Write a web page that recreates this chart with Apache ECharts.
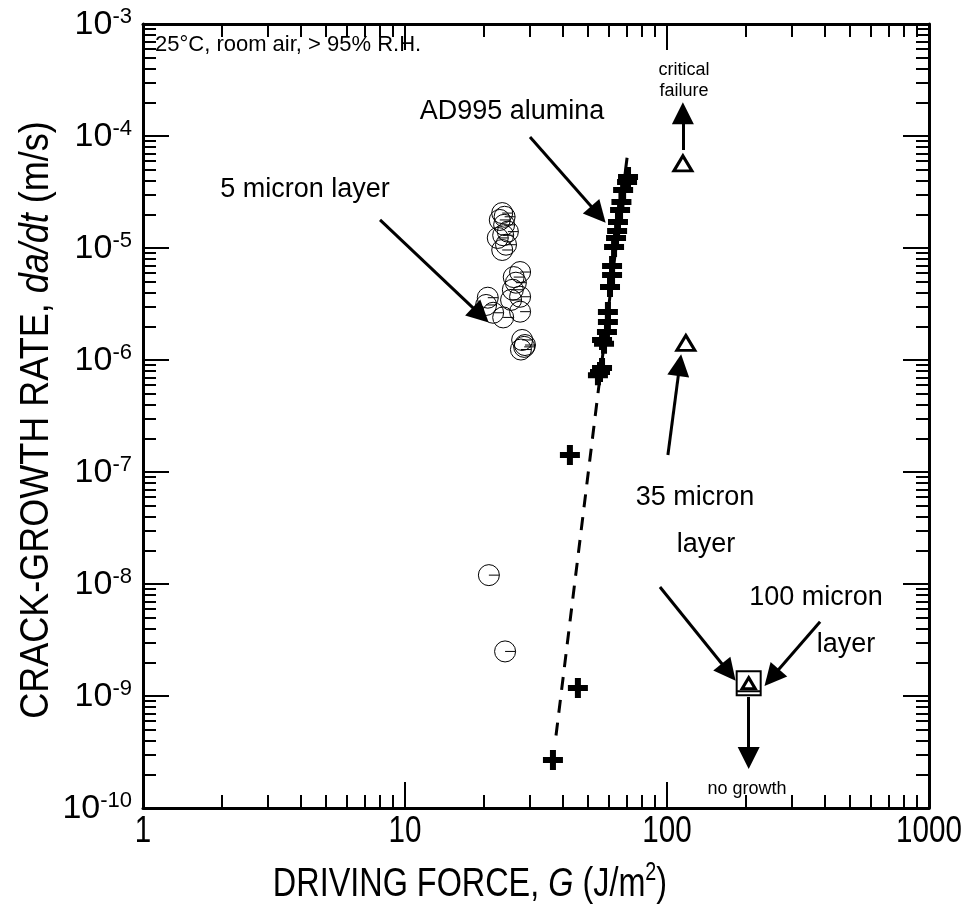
<!DOCTYPE html>
<html><head><meta charset="utf-8">
<script src="https://cdn.jsdelivr.net/npm/echarts@6/dist/echarts.min.js"></script>
<style>html,body{margin:0;padding:0;background:#fff}#c{width:973px;height:918px}</style>
</head><body><div id="c"></div>
<script>
// ---- data ----
const xMajor = [1, 10, 100, 1000];
const xTickLabels = ['1', '10', '100', '1000'];
const xMinor = [2,3,4,5,6,7,8,9,20,30,40,50,60,70,80,90,200,300,400,500,600,700,800,900];
const yMajor = [1e-10,1e-9,1e-8,1e-7,1e-6,1e-5,1e-4,1e-3];
const yMinor = [];
for (let e = -10; e < -3; e++) for (let m = 2; m <= 9; m++) yMinor.push(m * Math.pow(10, e));

// 5 micron layer (circles)
const circleG = [23.5,23.0,23.9,24.7,22.6,24.3,23.5,24.0,23.7,
                 27.5,26.5,25.8,27.5,25.4,20.7,21.7,23.7,27.5,20.4,26.0,
                 28.0,28.7,27.7,28.5,
                 20.9,24.1];
const circleRate = [2.05e-5,1.78e-5,1.61e-5,1.40e-5,1.23e-5,1.07e-5,9.6e-6,1.9e-5,1.3e-5,
                    6.1e-6,4.9e-6,4.24e-6,3.67e-6,3.44e-6,3.6e-6,2.64e-6,2.4e-6,2.7e-6,3.1e-6,5.5e-6,
                    1.51e-6,1.36e-6,1.24e-6,1.31e-6,
                    1.2e-8,2.5e-9];
// AD995 alumina (pluses)
const plusG = [55.5,56.5,54.5,56.5,57.5,59.0,59.5,59.5,60.6,61.7,61.7,62.8,63.9,64.5,65.0,66.2,67.0,68.0,70.4,71.0,
               42.6,45.7,36.7];
const plusRate = [7.8e-7,8.5e-7,7.3e-7,1.51e-6,1.4e-6,1.78e-6,2.18e-6,2.68e-6,4.49e-6,5.74e-6,6.9e-6,1.02e-5,1.23e-5,1.42e-5,1.71e-5,2.18e-5,2.58e-5,3.3e-5,3.88e-5,4.3e-5,
                  1.42e-7,1.18e-9,2.68e-10];
// 35 micron layer (triangles)
const triG = [115, 118];
const triRate = [5.7e-5, 1.42e-6];
// 100 micron layer (square, with 35 micron triangle inside)
const boxG = [205];
const boxRate = [1.3e-9];
// fit line (solid part then dashed extrapolation)
const fitSolidG = [70.4, 55.3];
const fitSolidRate = [6.4e-5, 6.6e-7];
const fitDashG = [55.3, 37.5];
const fitDashRate = [6.6e-7, 4.0e-10];
// annotation arrows [fromG, fromRate, toG, toRate]
const arrows = [
  [8.03, 1.78e-5, 19.45, 2.52e-6],   // 5 micron layer
  [30.0, 9.8e-5, 54.7, 1.99e-5],     // AD995 alumina
  [115, 7.5e-5, 115, 1.6e-4],        // critical failure
  [100.8, 1.42e-7, 111.8, 9.0e-7],   // 35 micron -> upper
  [94, 9.4e-9, 172, 1.63e-9],        // 35 micron -> box
  [384, 4.6e-9, 251, 1.46e-9],       // 100 micron -> box
  [205, 9.8e-10, 205, 2.8e-10]       // no growth
];

// ---- chart ----
const SANS = '"Liberation Sans", Arial, Helvetica, sans-serif';
const chart = echarts.init(document.getElementById('c'), null, {renderer: 'canvas'});
const zip = (a, b) => a.map((v, i) => [v, b[i]]);
const supLabel = v => '{b|10}{s|' + Math.round(Math.log10(v)) + '}';
function xAx(pos, ticks, len, showLine) {
  return {
    type: 'log', logBase: 10, min: 1, max: 1000, position: pos,
    axisLine: {show: showLine, onZero: false, lineStyle: {color: '#000', width: 3}},
    axisTick: {show: true, inside: true, length: len, customValues: ticks, lineStyle: {color: '#000', width: 2}},
    axisLabel: {show: false},
    splitLine: {show: false}, minorTick: {show: false}
  };
}
function yAx(pos, ticks, len, showLabel, showLine) {
  return {
    type: 'log', logBase: 10, min: 1e-10, max: 1e-3, position: pos,
    axisLine: {show: showLine, onZero: false, lineStyle: {color: '#000', width: 3}},
    axisTick: {show: true, inside: true, length: len, customValues: ticks, lineStyle: {color: '#000', width: 2}},
    axisLabel: {show: showLabel, customValues: yMajor, formatter: supLabel, margin: 11,
      rich: {
        b: {fontFamily: SANS, fontSize: 34, color: '#000', lineHeight: 36, verticalAlign: 'bottom'},
        s: {fontFamily: SANS, fontSize: 22, color: '#000', lineHeight: 22, verticalAlign: 'top'}
      }},
    splitLine: {show: false}, minorTick: {show: false}
  };
}
const arrowSeries = {
  type: 'lines', coordinateSystem: 'cartesian2d', xAxisIndex: 0, yAxisIndex: 0,
  polyline: false, symbol: ['none', 'triangle'], symbolSize: [15, 22],
  lineStyle: {color: '#000', width: 3, opacity: 1},
  itemStyle: {color: '#000', opacity: 1},
  data: arrows.map(a => ({coords: [[a[0], a[1]], [a[2], a[3]]]})),
  z: 5, silent: true, animation: false
};

const option = {
  animation: false,
  backgroundColor: '#fff',
  grid: {left: 143, right: 44, top: 24, bottom: 110, containLabel: false},
  xAxis: [xAx('bottom', xMajor, 26, true), xAx('bottom', xMinor, 13, false),
          xAx('top', xMajor, 26, true), xAx('top', xMinor, 13, false)],
  yAxis: [yAx('left', yMajor, 26, true, true), yAx('left', yMinor, 13, false, false),
          yAx('right', yMajor, 26, false, true), yAx('right', yMinor, 13, false, false)],
  series: [
    {type: 'line', data: zip(fitSolidG, fitSolidRate), showSymbol: false, symbol: 'none',
     lineStyle: {color: '#000', width: 3, type: 'solid', opacity: 1}, z: 2},
    {type: 'line', data: zip(fitDashG, fitDashRate), showSymbol: false, symbol: 'none',
     lineStyle: {color: '#000', width: 3, type: [13, 10], opacity: 1}, z: 2},
    {type: 'scatter', data: zip(circleG, circleRate),
     symbol: 'path://M0,10A10,10,0,1,1,20,10A10,10,0,1,1,0,10ZM10,10L20,10', symbolSize: 21,
     itemStyle: {color: 'rgba(0,0,0,0)', borderColor: '#000', borderWidth: 1, opacity: 1}, z: 3},
    {type: 'scatter', data: zip(plusG, plusRate),
     symbol: 'path://M7,0H13V7H20V13H13V20H7V13H0V7H7Z', symbolSize: 20,
     itemStyle: {color: '#000', opacity: 1}, z: 4},
    {type: 'scatter', data: zip(boxG, boxRate),
     symbol: 'path://M0,0H24V24H0ZM0,20H24', symbolSize: 24,
     itemStyle: {color: 'rgba(0,0,0,0)', borderColor: '#000', borderWidth: 2, opacity: 1}, z: 4},
    {type: 'scatter', data: zip(boxG, boxRate),
     symbol: 'triangle', symbolSize: [13, 11],
     itemStyle: {color: '#fff', borderColor: '#000', borderWidth: 3, opacity: 1}, z: 6},
    {type: 'scatter', data: zip(triG, triRate),
     symbol: 'triangle', symbolSize: [18, 15],
     itemStyle: {color: '#fff', borderColor: '#000', borderWidth: 3, opacity: 1}, z: 6},
    arrowSeries
  ]
};
chart.setOption(option);

const txt = (x, y, text, size, extra) => Object.assign({type: 'text', x: x, y: y,
  style: {text: text, fontFamily: SANS, fontSize: size, fill: '#000', align: 'center', verticalAlign: 'middle'}}, extra || {});
const graphics = [
  {type: 'text', x: 155, y: 45, style: {text: '25\u00B0C, room air, > 95% R.H.', fontFamily: SANS, fontSize: 22, fill: '#000', verticalAlign: 'middle'}},
  txt(684, 70, 'critical', 18),
  txt(684, 91, 'failure', 18),
  txt(512, 112, 'AD995 alumina', 27),
  txt(305, 190, '5 micron layer', 27),
  txt(695, 498, '35 micron', 27),
  txt(706, 545, 'layer', 27),
  txt(816, 598, '100 micron', 27),
  txt(846, 645, 'layer', 27),
  txt(747, 789, 'no growth', 18),
  {type: 'text', x: 470, y: 883, scaleX: 0.79, style: {
    text: '{a|DRIVING FORCE, }{i|G}{a| (J/m}{s|2}{a|)}', align: 'center', verticalAlign: 'middle',
    rich: {
      a: {fontFamily: SANS, fontSize: 41, fill: '#000', lineHeight: 44, verticalAlign: 'bottom'},
      i: {fontFamily: SANS, fontSize: 41, fontStyle: 'italic', fill: '#000', lineHeight: 44, verticalAlign: 'bottom'},
      s: {fontFamily: SANS, fontSize: 25, fill: '#000', lineHeight: 26, verticalAlign: 'top'}
    }}},
  {type: 'text', x: 37, y: 420, rotation: Math.PI / 2, scaleX: 0.9, style: {
    text: '{a|CRACK-GROWTH RATE, }{i|da/dt}{a| (m/s)}', align: 'center', verticalAlign: 'middle',
    rich: {
      a: {fontFamily: SANS, fontSize: 40, fill: '#000', lineHeight: 44},
      i: {fontFamily: SANS, fontSize: 40, fontStyle: 'italic', fill: '#000', lineHeight: 44}
    }}}
];
// x tick labels, placed through the axis scale
const yBottom = chart.convertToPixel({yAxisIndex: 0}, yMajor[0]);
xMajor.forEach((v, i) => {
  const px = chart.convertToPixel({xAxisIndex: 0}, v);
  graphics.push({type: 'text', x: px, y: yBottom + 24, scaleX: 0.8,
    style: {text: xTickLabels[i], fontFamily: SANS, fontSize: 37, fill: '#000', align: 'center', verticalAlign: 'middle'}});
});
chart.setOption({graphic: graphics});
</script>
</body></html>
